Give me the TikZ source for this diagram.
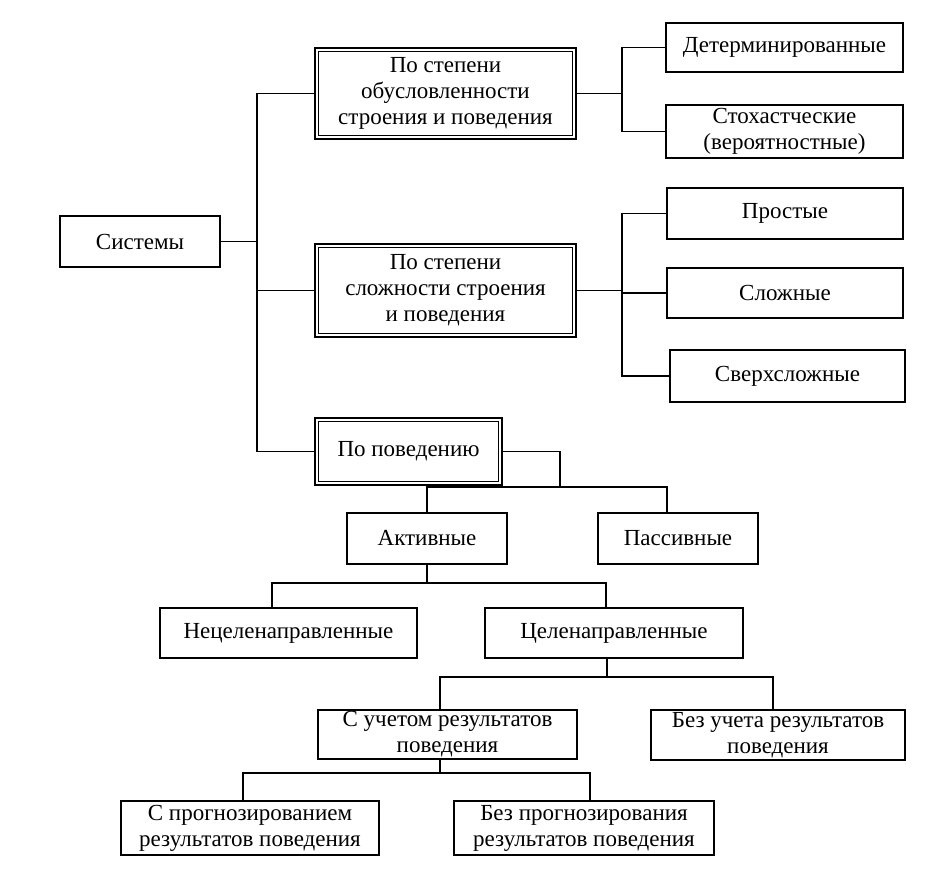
\documentclass[tikz,border=0pt]{standalone}
\usepackage{fontspec}
\setmainfont{Liberation Serif}
\begin{document}
\begin{tikzpicture}[x=1pt,y=-1pt,
  box/.style={draw, line width=1.4pt, inner sep=0pt, align=center,
    font=\fontsize{23}{26}\selectfont},
  dbox/.style={box, line width=2.6pt},
  conn/.style={line width=1.5pt}]
\fill[white] (0,0) rectangle (952,882);
\useasboundingbox (0,0) rectangle (952,882);
% nodes
\node[box, minimum width=160pt, minimum height=51pt] (sys) at (140,241.5) {Системы};
\node[dbox, minimum width=261pt, minimum height=91pt] (b1) at (445.5,93.5) {По степени\\обусловленности\\строения и поведения};
\node[dbox, minimum width=261pt, minimum height=93pt] (b2) at (445.5,290.5) {По степени\\сложности строения\\и поведения};
\node[dbox, minimum width=187pt, minimum height=67pt] (b3) at (408.5,451.5) {По поведению};
\node[box, minimum width=237pt, minimum height=49pt] (det) at (784.5,47.5) {Детерминированные};
\node[box, minimum width=237pt, minimum height=53pt] (sto) at (784.5,131.5) {Стохастческие\\(вероятностные)};
\node[box, minimum width=236pt, minimum height=51pt] (pro) at (785,213.5) {Простые};
\node[box, minimum width=236pt, minimum height=50pt] (slo) at (785,293) {Сложные};
\node[box, minimum width=235pt, minimum height=52pt] (sve) at (787.5,376) {Сверхсложные};
\node[box, minimum width=160pt, minimum height=51pt] (akt) at (427,538.5) {Активные};
\node[box, minimum width=160pt, minimum height=51pt] (pas) at (678,538.5) {Пассивные};
\node[box, minimum width=257pt, minimum height=50pt] (nec) at (288.5,633) {Нецеленаправленные};
\node[box, minimum width=258pt, minimum height=50pt] (cel) at (614,633) {Целенаправленные};
\node[box, minimum width=259pt, minimum height=49pt] (suc) at (447.5,734.5) {С учетом результатов\\поведения};
\node[box, minimum width=254pt, minimum height=50pt] (buc) at (778,735) {Без учета результатов\\поведения};
\node[box, minimum width=258pt, minimum height=54pt] (spr) at (250,828) {С прогнозированием\\результатов поведения};
\node[box, minimum width=260pt, minimum height=54pt] (bpr) at (584,828) {Без прогнозирования\\результатов поведения};
% inner frames of double boxes
\foreach \n in {b1,b2,b3}
  \draw[line width=1pt] ([shift={(5pt,5pt)}]\n.south west) rectangle ([shift={(-5pt,-5pt)}]\n.north east);
% coordinates
\coordinate (tk) at (257,0);
\coordinate (r1) at (622,0);
\coordinate (j1) at (560,487);
\coordinate (j2) at (0,583);
\coordinate (j3) at (0,677);
\coordinate (j4) at (0,773);
% connectors
\draw[conn] (b1.west) -| (tk |- b3.west) -- (b3.west);
\draw[conn] (sys.east) -- (sys.east -| tk);
\draw[conn] (b2.west) -- (b2.west -| tk);
\draw[conn] (b1.east) -- (b1.east -| r1);
\draw[conn] (det.west) -| (r1 |- sto.west) -- (sto.west);
\draw[conn] (b2.east) -- (b2.east -| r1);
\draw[conn] (pro.west) -| (r1 |- sve.west) -- (sve.west);
\draw[conn] (slo.west) -- (slo.west -| r1);
\draw[conn] (b3.east) -| (j1);
\draw[conn] (akt.north) |- (j1);
\draw[conn] ([xshift=-11pt]pas.north) |- (j1);
\draw[conn] (akt.south) -- (akt.south |- j2);
\draw[conn] ([xshift=-16.5pt]nec.north) |- ([xshift=-8pt]cel.north |- j2) -- ([xshift=-8pt]cel.north);
\draw[conn] ([xshift=-7pt]cel.south) -- ([xshift=-7pt]cel.south |- j3);
\draw[conn] ([xshift=-7.5pt]suc.north) |- ([xshift=-5pt]buc.north |- j3) -- ([xshift=-5pt]buc.north);
\draw[conn] ([xshift=-7.5pt]suc.south) -- ([xshift=-7.5pt]suc.south |- j4);
\draw[conn] ([xshift=-7pt]spr.north) |- ([xshift=6pt]bpr.north |- j4) -- ([xshift=6pt]bpr.north);
\end{tikzpicture}
\end{document}
